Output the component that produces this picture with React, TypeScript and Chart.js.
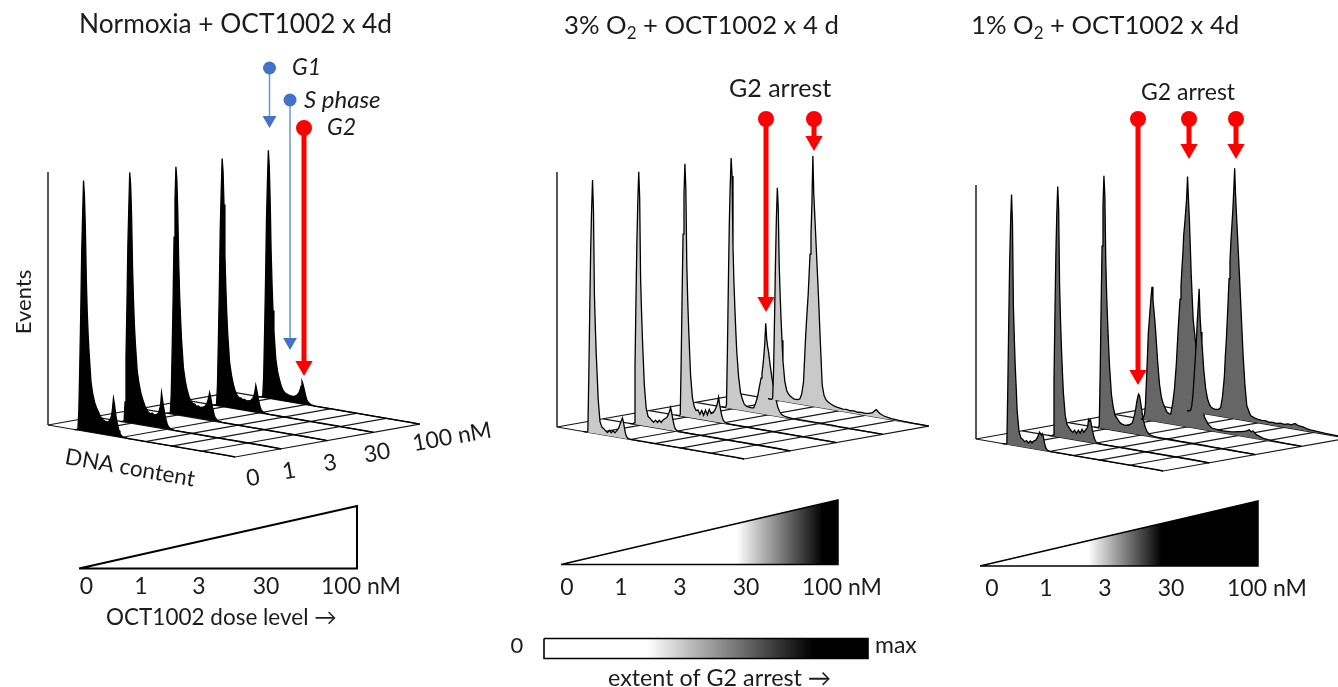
import React, { useEffect, useRef } from "react";
import { Chart, registerables } from "chart.js";

Chart.register(...registerables);

const FONT = "Lato, 'Open Sans', sans-serif";

// DNA-content bins shared by every histogram
const dnaBins = [14,15,16,16.5,17,17.5,18,18.5,19,19.5,20,20.5,21,21.5,22,
  23,24,25,26,27,28,29,30,31,32,33,
  34,34.5,35,35.5,36,36.5,37,37.5,38,38.5,39,39.5,40,
  41,42,43,44,45,46,
  48,50,52,54,56,58,60,62,64,66,68,70,
  71,72,73,74,
  76,78,80,84,88,92,96,100];

const low = [.1,.1,.1,.1,.1,.1,.1,.1,.1,.1,.1,.1, .1,.1,.1,.1, .1,.1,.1,.1,.1,.1,.1,0];

// Normoxia: events per dose
const normoxia0 = [0,0,.5,8,26,46,70,85,99,93,80,60,47,38,31, 20,15,12,10,8.5,7,6,5.5,5.2,5.2,6, 8,11,15,13,10,7.5,5.5,4,2.5,1.5,1,.6,.4, .2,.2,.1,.1,.1,.1, ...low];
const normoxia1 = [0,0,.5,8,26,46,70,85,99,94,82,62,49,39,32, 21,16,12.5,10,8,6.5,5.5,5,5.4,4.8,5, 5.5,6,7.5,9,14,11.5,9,7,5,3.5,2.2,1.4,.9, .4,.2,.1,.1,.1,.1, ...low];
const normoxia2 = [0,0,.5,8,26,46,70,85,98,93,80,60,47,38,30, 19,14,10.5,8,6.5,5.5,5.5,4.7,5,4.5,4.7, 5,5.3,5.8,6.5,7.5,9,11,9.5,7.5,5.5,4,2.5,1.5, .7,.3,.2,.1,.1,.1, ...low];
const normoxia3 = [0,0,.5,8,26,46,70,85,98,93,80,60,47,37,29, 18,13,9.5,7,5.5,4.6,4.7,4.1,4.3,3.9,4, 4.3,4.5,5,5.5,6.5,8,10.7,9,7,5,3.2,2,1.2, .6,.3,.2,.1,.1,.1, ...low];
const normoxia4 = [0,0,.5,8,26,46,70,85,98,92,78,58,45,35,27, 16,11,8,5.5,4,3.2,2.9,2.6,2.5,2.4,2.6, 3,3.3,3.8,4.5,5.5,7,9,8,6.5,5,3.5,2.2,1.4, .7,.3,.2,.1,.1,.1, ...low];

// 3% O2: events per dose
const hypoxia3_0 = [0,0,0,.5,22,48,72,88,100,88,55,42,31,23,14, 5,3,2.5,1.8,1.2,2.2,1.4,2.3,1.6,2.6,3.8, 6,7,8,6.5,4.5,2.5,1.2,.6,.3,.2,.1,.1,.1, .1,.1,.1,.1,.1,.1, ...low];
const hypoxia3_1 = [0,0,0,.5,22,48,72,88,100,90,58,45,34,25,16, 7,4,3.4,2.6,2,3,2.2,3.2,2.5,3.6,4.2, 4.8,5.5,6.5,7.5,9,7.5,5.5,3.5,2,1,.6,.3,.2, .1,.1,.1,.1,.1,.1, ...low];
const hypoxia3_2 = [0,0,0,.5,22,48,72,88,100,90,60,46,35,26,17, 8,4.5,3.2,3.5,2,3.6,1.8,4,2.2,4.5,3, 3.5,4,4.6,5.5,6.5,8,10,7.5,5.5,3.5,2.2,1.2,.7, .3,.2,.1,.1,.1,.1, ...low];
const hypoxia3_3 = [0,0,0,1,22,48,72,88,99,92,64,50,40,31,23, 13,7,4.5,2.6,2,1.8,1.7,1.6,1.8,3.5,6, 10,12,14,16,19,23,28,36,30,27,25,22,19, 14,10,6.5,3.5,2,1, .4,.3,.2,.2,.2,.2,.2,.2,.2,.2,.2,.2, .2,.2,.2,.2, .1,.1,.1,.1,.1,.1,.1,0];
const hypoxia3_4 = [0,0,0,.5,12,32,54,72,84,76,54,42,32,24,16, 8,4.5,3.2,2.5,2,1.6,1.6,1.7,2,4,9, 25,32,38,44,52,60,68,80,99,84,76,68,60, 44,26,9,5,3.5,2.8, 2,1.4,1.2,.9,1.1,.8,1,.7,.9,.8,1,1.6, 2.4,3,2.2,1.6, 1,.7,.5,.3,.2,.1,.1,0];

// 1% O2: events per dose
const hypoxia1_0 = [0,0,0,.5,22,48,72,88,99,88,55,42,31,23,14, 6,3.5,3,2.2,2.8,2,2.9,2.2,3.2,3.6,5, 7,6.5,6,6.6,5.5,3.5,2,1,.5,.3,.2,.1,.1, .1,.1,.1,.1,.1,.1, ...low];
const hypoxia1_1 = [0,0,0,.5,22,48,72,88,99,90,60,46,35,26,18, 9,5.5,4.5,3.5,2.8,3.8,2.6,4,3,4.6,3.6, 4.8,5.2,6,9,8.5,9,7,5,3.5,2,1.2,.6,.3, .2,.1,.1,.1,.1,.1, ...low];
const hypoxia1_2 = [0,0,0,1,22,48,72,88,100,92,66,52,42,33,25, 14,9,6,5,4,3.2,3,2.8,2.8,3,3.5, 4,5,6.5,8,10,12.5,14.5,16,15.5,13.5,11,8.5,6.5, 3.5,1.8,1,.6,.4,.3, .2,.2,.2,.2,.2,.2,.2,.2,.2,.2,.2,.2, .2,.2,.2,.2, .1,.1,.1,.1,.1,.1,.1,0];
const hypoxia1_3 = [0,0,2,6,15,24,34,39,44,49,53,48,44,40,35, 24,15,10,7.5,6,4.5,4,4,8,14,24, 38,44,50,55,62,68,76,80,85,90,99,90,82, 60,43,36,29,24,17, 5,2.5,1.2,1,.9,.8,.9,1,1.2,1.5,1.8,2.2, 2.6,3,2.4,2.8, 1.5,1,.5,.3,.2,.1,.1,0];
const hypoxia1_4 = [0,0,.5,2,5,10,16,22,28,36,42,49,38,32,28, 17,10,6,4,3,2.6,2.5,2.5,2.8,3.5,8, 16,24,30,38,46,55,62,70,76,82,90,99,88, 73,58,42,26,14,6, 2.4,1.7,1.4,1.2,1.4,1,1.2,1,1.4,1.2,1.6,1.5, 2,2.2,1.8,1.6, 1.4,1,.8,.6,.4,.3,.2,.1];

const doseLabels = ["0", "1", "3", "30", "100 nM"];
const dnaGridTicks = [0, 20, 39, 52, 66, 82, 100];
const doseGridTicks = [0, 1, 2, 3, 4];

// panel geometry: oblique projection of (dose, DNA content, events)
const panels = [
  { ox: 48, oy: 425, top: 172, fill: "#000000", series: [normoxia0, normoxia1, normoxia2, normoxia3, normoxia4] },
  { ox: 557, oy: 427, top: 172, fill: "#c9c9c9", series: [hypoxia3_0, hypoxia3_1, hypoxia3_2, hypoxia3_3, hypoxia3_4] },
  { ox: 976, oy: 439, top: 185, fill: "#666666", series: [hypoxia1_0, hypoxia1_1, hypoxia1_2, hypoxia1_3, hypoxia1_4] },
];
const DOSE_DX = 46.2, DOSE_DY = -8.2, DNA_DX = 187, DNA_DY = 32, EV_PX = 2.53;

const project = (p: any, dose: number, dna: number, ev: number) => ({
  x: p.ox + dose * DOSE_DX + (dna / 100) * DNA_DX,
  y: p.oy + dose * DOSE_DY + (dna / 100) * DNA_DY - ev * EV_PX,
});

// arrows
const BLUE = "#4472c4", RED = "#ff0000";
const markers = [
  { x: 269.5, y0: 68, tip: 128, color: BLUE, line: "#6f94d8", w: 1.5, dot: 6.5, head: 8 },
  { x: 290, y0: 100, tip: 350, color: BLUE, line: "#6f94d8", w: 1.5, dot: 6.5, head: 8 },
  { x: 304, y0: 128, tip: 376, color: RED, line: RED, w: 5, dot: 8, head: 10 },
  { x: 766, y0: 119, tip: 312, color: RED, line: RED, w: 5, dot: 8, head: 10 },
  { x: 814, y0: 119, tip: 151, color: RED, line: RED, w: 5, dot: 8, head: 10 },
  { x: 1138, y0: 119, tip: 385, color: RED, line: RED, w: 5, dot: 8, head: 10 },
  { x: 1189, y0: 119, tip: 159, color: RED, line: RED, w: 5, dot: 8, head: 10 },
  { x: 1236, y0: 119, tip: 159, color: RED, line: RED, w: 5, dot: 8, head: 10 },
];

// dose wedges and the colour key
const wedges = [
  { x0: 79, x1: 357, base: 568.5, top: 506, white: 0, black: 0, w: 2 },
  { x0: 561, x1: 838, base: 564.5, top: 500, white: 737, black: 823, w: 1.5 },
  { x0: 980, x1: 1258, base: 566, top: 501, white: 1088, black: 1162, w: 1.5 },
];
const keyBar = { x0: 544, x1: 868, y0: 638.5, y1: 658.5, white: 647, black: 813 };

type Run = { t: string; sub?: boolean };
type Label = { runs: Run[]; x: number; y: number; size?: number; align?: CanvasTextAlign; rot?: number; italic?: boolean };
const T = (t: string): Run[] => [{ t }];

const labels: Label[] = [
  { runs: T("Normoxia + OCT1002 x 4d"), x: 79, y: 25, size: 26.3 },
  { runs: [{ t: "3% O" }, { t: "2", sub: true }, { t: " + OCT1002 x 4 d" }], x: 564, y: 26, size: 25.7 },
  { runs: [{ t: "1% O" }, { t: "2", sub: true }, { t: " + OCT1002 x 4d" }], x: 971, y: 26, size: 25.7 },
  { runs: T("G1"), x: 292, y: 68, size: 23, italic: true },
  { runs: T("S phase"), x: 304, y: 100, size: 24, italic: true },
  { runs: T("G2"), x: 327, y: 128, size: 23, italic: true },
  { runs: T("G2 arrest"), x: 729, y: 89, size: 25 },
  { runs: T("G2 arrest"), x: 1141, y: 93, size: 23 },
  { runs: T("Events"), x: 24, y: 302, size: 22, align: "center", rot: -90 },
  { runs: T("DNA content"), x: 130, y: 468, size: 22.5, align: "center", rot: 10 },
  { runs: T(doseLabels[0]), x: 253, y: 478, size: 23, align: "center", rot: -10 },
  { runs: T(doseLabels[1]), x: 289, y: 471, size: 23, align: "center", rot: -10 },
  { runs: T(doseLabels[2]), x: 330, y: 463, size: 23, align: "center", rot: -10 },
  { runs: T(doseLabels[3]), x: 377, y: 453, size: 23, align: "center", rot: -10 },
  { runs: T(doseLabels[4]), x: 452, y: 437, size: 23, align: "center", rot: -10 },
  ...[[86.5, 141, 199, 266, 321, 587], [567, 621, 680, 746, 802, 588], [992, 1046, 1105, 1171, 1227, 589]].flatMap((r) =>
    doseLabels.map((s, i) => ({ runs: T(s), x: r[i], y: r[5], size: 23, align: (i === 4 ? "left" : "center") as CanvasTextAlign }))
  ),
  { runs: T("OCT1002 dose level →"), x: 106, y: 618, size: 22.5 },
  { runs: T("0"), x: 517, y: 646, size: 22, align: "center" },
  { runs: T("max"), x: 875, y: 646, size: 23 },
  { runs: T("extent of G2 arrest →"), x: 608, y: 678, size: 23.3 },
];

const textPlugin = {
  id: "panelText",
  afterDraw(chart: any) {
    const { ctx } = chart;
    const sx = chart.scales.x, sy = chart.scales.y;
    for (const l of labels) {
      const size = l.size ?? 20;
      ctx.save();
      ctx.translate(sx.getPixelForValue(l.x), sy.getPixelForValue(l.y));
      if (l.rot) ctx.rotate((l.rot * Math.PI) / 180);
      ctx.fillStyle = "#1c1c1c";
      ctx.textBaseline = "middle";
      const main = `${l.italic ? "italic " : ""}${size}px ${FONT}`;
      const sub = `${Math.round(size * 0.65)}px ${FONT}`;
      if (l.runs.length === 1) {
        ctx.font = main;
        ctx.textAlign = l.align ?? "left";
        ctx.fillText(l.runs[0].t, 0, 0);
      } else {
        ctx.textAlign = "left";
        let px = 0;
        for (const r of l.runs) {
          ctx.font = r.sub ? sub : main;
          ctx.fillText(r.t, px, r.sub ? size * 0.3 : 0);
          px += ctx.measureText(r.t).width;
        }
      }
      ctx.restore();
    }
  },
};

function App() {
  const ref = useRef<HTMLCanvasElement | null>(null);
  useEffect(() => {
    const canvas = ref.current!;
    const ctx = canvas.getContext("2d")!;
    const ramp = (a: number, b: number) => {
      const g = ctx.createLinearGradient(a, 0, b, 0);
      g.addColorStop(0, "#ffffff");
      g.addColorStop(1, "#000000");
      return g;
    };
    const line = (data: any[], color: string, width: number, order: number, extra: any = {}) => ({
      type: "scatter",
      data,
      showLine: true,
      borderColor: color,
      borderWidth: width,
      pointRadius: 0,
      order,
      fill: false,
      ...extra,
    });

    const datasets: any[] = [];
    panels.forEach((p) => {
      datasets.push(line([{ x: p.ox, y: p.top }, { x: p.ox, y: p.oy }], "#222222", 1.5, 200));
      dnaGridTicks.forEach((d) =>
        datasets.push(line([project(p, 0, d, 0), project(p, 4, d, 0)], "#1a1a1a", 1.2, 190))
      );
      doseGridTicks.forEach((k) =>
        datasets.push(line([project(p, k, 0, 0), project(p, k, 100, 0)], "#1a1a1a", 1.2, 190))
      );
      p.series.forEach((vals, dose) => {
        const pts = [project(p, dose, dnaBins[0], 0)];
        vals.forEach((v, i) => pts.push(project(p, dose, dnaBins[i], v)));
        datasets.push(
          line(pts, "#000000", 1.3, 100 - dose * 10, { fill: "shape", backgroundColor: p.fill })
        );
      });
    });

    wedges.forEach((w) => {
      const bg = w.black ? ramp(w.white, w.black) : "#ffffff";
      datasets.push(
        line(
          [{ x: w.x0, y: w.base }, { x: w.x1, y: w.top }, { x: w.x1, y: w.base }, { x: w.x0, y: w.base }],
          "#000000", w.w, 20, { fill: "shape", backgroundColor: bg }
        )
      );
    });
    datasets.push(
      line(
        [
          { x: keyBar.x0, y: keyBar.y0 }, { x: keyBar.x1, y: keyBar.y0 },
          { x: keyBar.x1, y: keyBar.y1 }, { x: keyBar.x0, y: keyBar.y1 }, { x: keyBar.x0, y: keyBar.y0 },
        ],
        "#000000", 1.6, 20, { fill: "shape", backgroundColor: ramp(keyBar.white, keyBar.black) }
      )
    );

    markers.forEach((m) => {
      const headY = m.tip - m.head;
      datasets.push(
        line([{ x: m.x, y: m.y0 }, { x: m.x, y: headY }], m.line, m.w, 2)
      );
      datasets.push({
        type: "scatter",
        data: [{ x: m.x, y: m.y0 }, { x: m.x, y: headY }],
        showLine: false,
        order: 1,
        pointStyle: ["circle", "triangle"],
        pointRotation: [0, 180],
        pointRadius: [m.dot, m.head],
        pointBackgroundColor: m.color,
        pointBorderWidth: 0,
      });
    });

    const chart = new Chart(canvas, {
      type: "scatter",
      data: { datasets },
      plugins: [textPlugin],
      options: {
        animation: false,
        responsive: false,
        layout: { padding: 0, autoPadding: false },
        events: [],
        plugins: { legend: { display: false }, tooltip: { enabled: false }, title: { display: false } },
        scales: {
          x: { type: "linear", min: 0, max: 1338, display: false, offset: false },
          y: { type: "linear", min: 0, max: 687, reverse: true, display: false, offset: false },
        },
      },
    } as any);
    return () => chart.destroy();
  }, []);
  return (
    <canvas
      ref={ref}
      width={1338}
      height={687}
      style={{ position: "absolute", left: 0, top: 0, width: 1338, height: 687, display: "block", background: "#ffffff", filter: "blur(0.4px)" }}
    />
  );
}

export default App;
